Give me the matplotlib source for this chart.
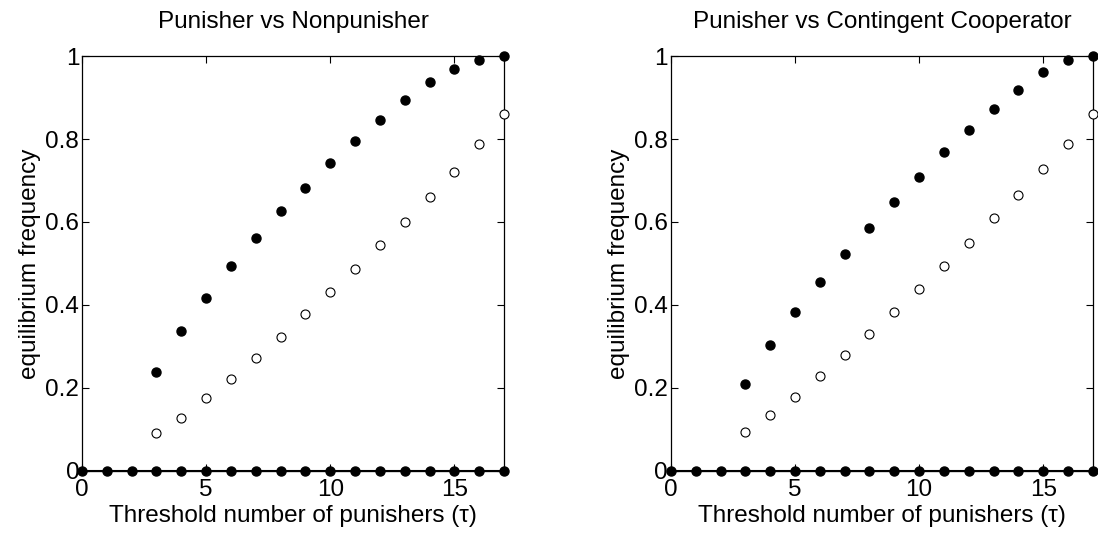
import numpy as np
import matplotlib
matplotlib.use("Agg")
import matplotlib.pyplot as plt

plt.rcParams["font.family"] = ["Liberation Sans", "DejaVu Sans"]

# threshold values
tau = np.arange(0, 18)
tau_int = np.arange(3, 18)

# Punisher vs Nonpunisher
np_stable = [0.239, 0.336, 0.416, 0.494, 0.561, 0.626, 0.683, 0.741, 0.796,
             0.846, 0.894, 0.937, 0.969, 0.991, 1.0]
np_unstable = [0.091, 0.128, 0.175, 0.221, 0.272, 0.322, 0.377, 0.431, 0.486,
               0.544, 0.600, 0.659, 0.720, 0.789, 0.861]

# Punisher vs Contingent Cooperator
cc_stable = [0.210, 0.304, 0.383, 0.456, 0.522, 0.586, 0.647, 0.709, 0.768,
             0.822, 0.872, 0.919, 0.962, 0.991, 1.0]
cc_unstable = [0.094, 0.134, 0.178, 0.228, 0.279, 0.330, 0.383, 0.438, 0.494,
               0.550, 0.609, 0.666, 0.727, 0.789, 0.861]

zeros = np.zeros(len(tau))

fig = plt.figure(figsize=(10.98, 5.34), dpi=100)
ax1 = fig.add_axes([0.0747, 0.1185, 0.3843, 0.7765])
ax2 = fig.add_axes([0.611, 0.1185, 0.3844, 0.7765])

panels = [(ax1, "Punisher vs Nonpunisher", np_stable, np_unstable),
          (ax2, "Punisher vs Contingent Cooperator", cc_stable, cc_unstable)]

fs = 17.5
for ax, title, stable, unstable in panels:
    ax.plot(tau, zeros, "-o", color="black", markersize=6.5, linewidth=1.5, clip_on=False, zorder=3)
    ax.plot(tau_int, stable, "o", color="black", markersize=6.5, linestyle="none", clip_on=False, zorder=3)
    ax.plot(tau_int, unstable, "o", markerfacecolor="white", markeredgecolor="black",
            markersize=6.5, markeredgewidth=0.8, linestyle="none", clip_on=False, zorder=3)
    ax.set_xlim(0, 17)
    ax.set_ylim(0, 1)
    ax.set_xticks([0, 5, 10, 15])
    ax.set_yticks([0, 0.2, 0.4, 0.6, 0.8, 1])
    ax.set_yticklabels(["0", "0.2", "0.4", "0.6", "0.8", "1"])
    ax.tick_params(axis="both", direction="in", top=True, right=True, labelsize=fs, length=5)
    ax.tick_params(axis="x", pad=6)
    ax.tick_params(axis="y", pad=2)
    ax.set_xlabel("Threshold number of punishers (\u03c4)", fontsize=fs, labelpad=3)
    ax.set_ylabel("equilibrium frequency", fontsize=fs, labelpad=3)
    ax.set_title(title, fontsize=fs, pad=20)
    for s in ax.spines.values():
        s.set_linewidth(0.9)

fig.savefig("out.png", dpi=100)
